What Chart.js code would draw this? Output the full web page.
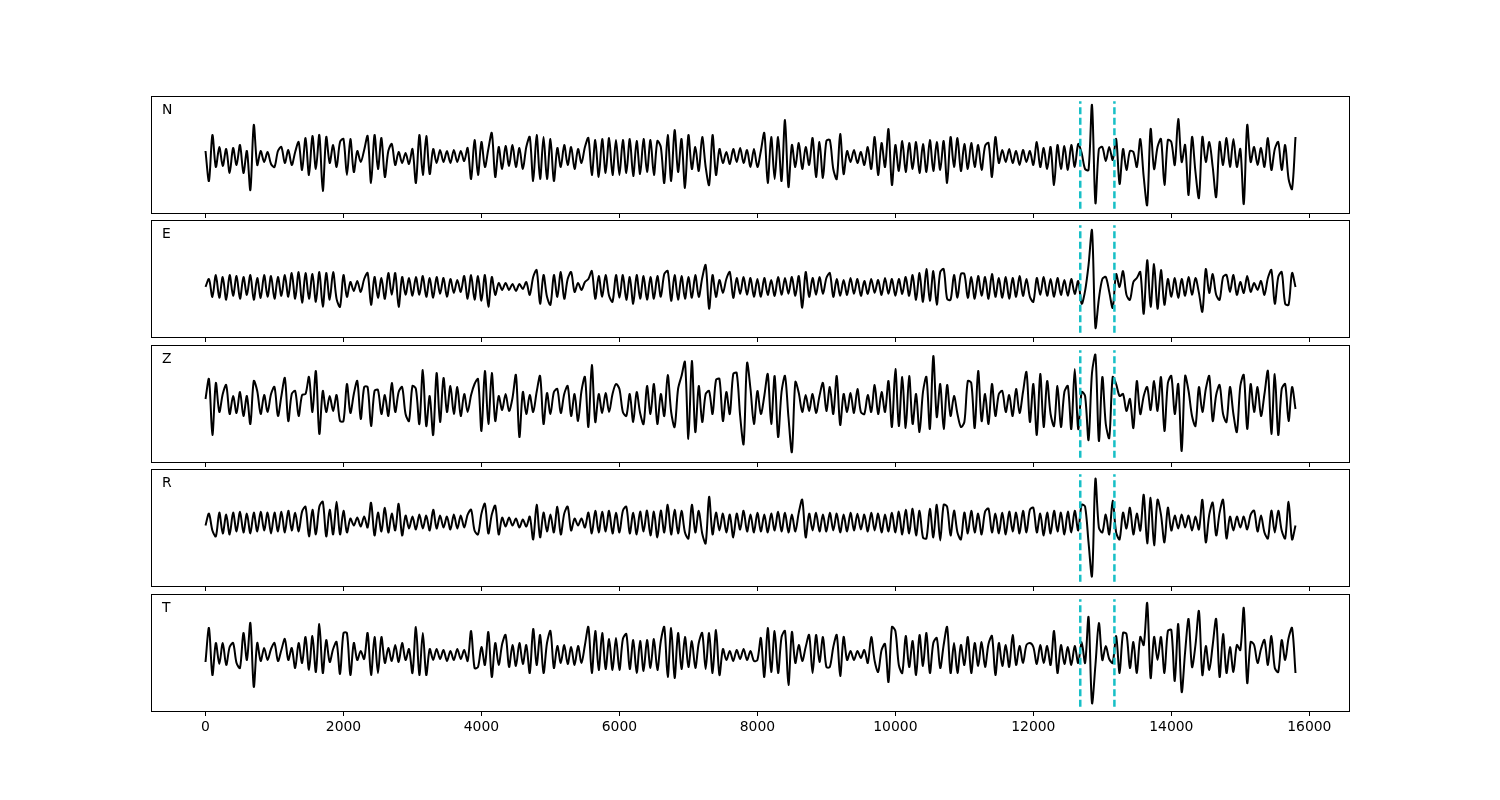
<!DOCTYPE html>
<html>
<head>
<meta charset="utf-8">
<title>Seismogram components</title>
<script src="https://cdn.jsdelivr.net/npm/chart.js@4.4.1/dist/chart.umd.min.js"></script>
<style>
  body { margin: 0; background: #fff; width: 1500px; height: 800px; position: relative; overflow: hidden; }
  canvas { position: absolute; left: 151px; }
</style>
</head>
<body>
<canvas id="c0"></canvas>
<canvas id="c1"></canvas>
<canvas id="c2"></canvas>
<canvas id="c3"></canvas>
<canvas id="c4"></canvas>
<script>
// Waveform amplitudes, one value every 50 samples (0 .. 15800)
const sampleStep = 50;

const traceN = [
  6, -24, 22, -10, 10, -9, 8, -16, 9, -8, 12, -16, 6, -33, 32, -8, 6, -5, 5, -7,
  -10, 6, 10, -6, 7, -8, 5, 15, -13, 19, -18, 21, -12, 22, -34, 20, -6, 12, -10, 15,
  18, -18, 18, -15, 6, -5, 7, 21, -26, 22, -12, 19, -20, 6, 13, -8, 5, -6, 4, -7,
  8, -26, 22, -18, 21, -17, 8, -6, 7, -5, 6, -6, 7, -5, 6, -4, 9, -22, 17, -18,
  15, -10, 8, 24, -20, 10, -12, 11, -9, 12, -10, 9, -12, 10, 20, -24, 22, -22, 20, -22,
  18, -24, 9, -10, 12, -8, 10, -12, 8, -6, 10, 19, -18, 17, -20, 18, -16, 19, -18, 17,
  -18, 17, -16, 18, -19, 16, -17, 18, -15, 17, -18, 16, 10, -26, 22, -24, 27, -15, 18, -31,
  22, -12, 10, -14, 20, -10, -28, 22, -18, 8, -6, 5, -7, 8, -5, 9, -6, 7, -10, 8,
  -10, 6, 24, -26, 20, -22, 20, -24, 37, -30, 12, -10, 14, -12, 10, -8, 19, -20, 15, -21,
  16, 17, -12, -22, 23, -17, 6, -5, 7, -6, 5, -8, 10, -12, 20, -18, 14, -10, 28, -28,
  12, -14, 16, -15, 14, -12, 15, -16, 13, -15, 17, -14, 15, -13, 16, -26, 20, -10, 19, -14,
  13, -12, 14, -10, 12, -13, 11, 14, -20, 20, -6, 7, -5, 8, -6, 6, -8, 7, -5, 6,
  -8, 15, -10, 9, -12, 10, -28, 12, -12, 11, -13, 12, -10, 13, 4, -12, -13, 52, -46, 8,
  10, -4, 10, -3, 18, -27, 8, -13, 6, 5, -10, 18, -20, -48, 28, -12, 10, 18, -28, 17,
  15, -8, 38, -5, 12, -38, 20, -15, -41, 20, -5, 15, -10, -40, 15, -8, 19, -10, 18, -10,
  8, -47, 32, -5, 10, -8, 9, -10, 19, -13, 8, 15, -13, 12, -22, -32, 20
];

const traceE = [
  0, 8, -10, 12, -11, 10, -13, 12, -9, 11, -12, 10, -8, 12, -13, 9, -11, 12, -10, 11,
  -12, 10, -9, 12, -10, 14, -12, 15, -16, 14, -12, 13, -15, 15, -20, 14, -13, 15, -12, -20,
  12, -10, 5, -4, 6, -5, 8, 14, -18, 10, -11, 9, -12, 14, -8, 14, -20, 10, -8, 9,
  -9, 10, -8, 11, -10, 9, -11, 10, -7, 9, -10, 8, -6, 7, -5, 11, -12, 12, -13, 11,
  -14, 12, -20, 10, -8, 4, -3, 4, -3, 3, -4, 3, -2, 5, -8, 10, 17, -17, 12, -10,
  -18, 12, -10, 15, -12, 8, 15, -5, 4, -3, 5, 8, 16, -12, 11, -10, 12, -9, -15, 12,
  -11, 12, -13, 10, -17, 12, -12, 11, -13, 10, -12, 11, -10, 13, 16, -14, 12, -13, 11, -12,
  10, -11, 12, -10, 9, 22, -22, 12, -10, 7, -6, 8, 15, -11, 9, -7, 10, -8, 9, -10,
  8, -10, 9, -8, 7, -9, 10, -8, 9, -7, 10, -9, 11, -21, 15, -10, 9, -8, 10, -7,
  9, 14, -10, 8, -9, 7, -8, 9, -7, 8, -9, 6, -7, 8, -6, 7, -8, 9, -7, 8,
  -9, 8, -7, 10, -9, 12, -13, 14, -15, 18, -14, 16, -18, 15, 18, -12, -13, 12, -11, 13,
  13, -11, 10, -12, 11, -9, 10, -12, 13, -10, 9, -11, 10, -12, 9, -10, 11, -9, 8, -10,
  -15, 9, -8, 10, -9, 8, -10, 9, -8, 7, -9, 8, -7, 6, -17, -4, 22, 57, -41, -12,
  8, 10, -5, -21, 13, 0, 16, -8, -13, 5, 9, 15, -27, 27, -20, 23, -22, 17, -18, 8,
  -10, 9, -11, 8, -9, 10, -8, 9, -6, -25, 18, -6, 13, -8, -13, 10, 12, -5, 12, -8,
  5, -6, 11, -5, 4, -3, 6, -8, 9, 17, -17, 10, 15, -17, -18, 14, 0
];

const traceZ = [
  5, 25, -31, 21, -8, 10, 19, -10, 8, -9, 12, -12, 8, -20, 23, 13, -10, 9, -8, 10,
  17, -12, 8, 26, -17, 10, 13, -12, 9, 10, 27, -8, 33, -30, 13, -8, 8, -7, 9, -17,
  -17, 20, -9, 10, 23, -15, 17, 17, -22, 13, 14, -10, 9, -12, 21, -8, 12, 17, -10, -17,
  18, 15, -20, 34, -22, 8, -31, 31, -18, 26, -8, 18, -10, 17, -12, 10, -8, 9, 20, 25,
  -27, 33, -20, 31, -17, 8, -6, 10, -7, 6, 29, -33, 12, -10, 9, -8, 12, 28, -20, 11,
  -10, 12, 15, -9, 10, 18, -12, 10, -17, 13, 27, -23, 39, -18, 10, -9, 11, -8, 10, 20,
  15, -8, -12, 10, -18, 12, -9, -20, 18, -10, 20, -20, 10, -12, 29, -8, -23, 15, 28, 42,
  -35, 43, -28, 18, -18, 10, 13, -10, 24, 25, -17, 12, -10, 30, 31, -12, -40, 41, 15, -20,
  13, -10, 8, 30, -20, 28, -33, 12, 28, -13, -48, 22, 11, -8, 9, -7, 10, -9, 8, 21,
  -7, 17, -10, 28, -21, 10, -8, 11, -9, 15, -8, -10, 9, -8, 19, -10, 12, -8, 23, -23,
  35, -22, 27, -24, 28, -20, 10, -28, 12, 27, -25, 48, -13, 20, -25, 19, -12, 8, -10, -23,
  -18, 23, 21, -24, 33, -17, 10, -20, 20, -12, 10, 13, -8, 9, -12, 15, -9, 12, 32, -18,
  20, -31, 30, -23, 23, -10, -22, 18, -23, 12, 18, -25, 35, -25, 12, 8, -36, 31, 49, -37,
  27, -20, -34, 27, 20, 8, 10, -7, 5, -24, 23, -10, 8, 17, -6, 23, -7, 27, -27, 21,
  28, -10, 20, -47, 28, 13, -12, -22, 17, -8, 15, 28, -17, 9, 19, -10, -18, 17, -10, -28,
  18, 29, -25, 20, -8, 17, -12, 10, 33, -30, 30, -31, 15, 20, -17, 17, -5
];

const traceR = [
  -3, 9, -8, -14, 10, -11, 8, -12, 10, -9, 11, -10, 9, -11, 10, -9, 11, -8, 10, -11,
  10, -9, 11, -10, 12, -8, 10, -9, 11, 16, -14, 13, -12, 16, 21, -14, 13, -12, 21, -12,
  12, -10, 4, -3, 5, -4, 6, -5, 20, -13, 10, -9, 15, -10, 9, -8, 19, -13, 7, -6,
  6, -7, 8, -6, 7, -8, 13, -6, 7, -5, 6, -7, 8, -6, 7, -5, 8, 13, -8, -12,
  9, 19, -11, 8, 17, -12, 5, -4, 5, -3, 4, -5, 3, -4, 6, -17, 18, -15, 10, -9,
  8, -10, 16, -12, 9, 16, -8, 4, -3, 4, -5, 10, -11, 12, -10, 11, -9, 12, -11, 10,
  -10, 12, 16, -11, 10, -12, 11, -9, 12, -13, 11, -15, 12, -10, 18, -12, 13, -11, 12, -10,
  -16, 18, -10, 12, -11, -21, 26, -12, 10, -8, 9, -10, 8, -15, 9, -7, 12, -9, 8, -10,
  10, -9, 8, -10, 9, -8, 11, -9, 10, -10, 8, -9, 10, 23, -15, 9, -8, 10, -9, 8,
  -9, 10, -8, 9, -10, 8, -9, 10, -8, 9, -7, 8, -9, 10, -8, 9, -10, 8, -9, 10,
  -10, 11, -12, 13, -11, 14, -13, 12, -15, -16, 14, -15, 18, -18, 18, 16, -13, 12, -10, -17,
  10, -11, 12, -10, 9, -12, 11, 14, -10, 9, -11, 10, -12, 11, -9, 10, -11, 12, -10, 13,
  15, -10, 9, -13, 10, -11, 12, -9, 10, -12, 11, -10, 12, -8, 18, 16, -20, -54, 44, -5,
  -10, 8, -12, 22, -10, -17, 10, -6, 15, -12, 9, -8, 28, -21, 25, -23, 23, 8, -20, 15,
  -8, 7, -6, 8, -5, 7, -8, 6, -7, 23, -20, 8, 20, -13, 10, 23, -16, 6, -8, 6,
  -5, 6, -7, 8, 12, -9, 7, -10, -16, 12, -10, 12, -8, -16, 21, -17, -3
];

const traceT = [
  -7, 27, -20, 12, -9, 12, -10, 8, 12, -8, -13, 22, -5, 32, -32, 12, -6, 7, -5, 6,
  12, -6, 5, 16, -5, 7, -13, 12, -8, 18, -15, 19, -17, 31, -18, 15, -7, 6, 13, -19,
  22, 22, -20, 12, -5, 4, -4, 22, -20, 18, -18, 18, -8, 7, -6, 10, -7, 12, -5, 6,
  -18, 28, -20, 22, -20, 6, -5, 6, -4, 5, -6, 4, -5, 6, -4, 5, -6, 24, -13, -12,
  8, -10, 23, -22, 12, -10, 11, 20, -12, 10, -11, 12, -9, 10, -18, 26, -10, 20, -18, 12,
  24, -13, 9, -8, 10, -9, 8, -10, 9, -8, 10, 28, -18, 24, -15, 22, -14, 16, -15, 17,
  -15, 16, 21, -14, 15, -18, 14, -16, 15, -13, 16, -15, 14, 28, -22, 27, -23, 22, -14, 18,
  -12, 14, -13, 12, 22, -14, 22, -18, 25, -20, 6, -5, 4, -6, 5, -4, 6, -5, 4, -6,
  -5, 17, -22, 27, -17, 24, -18, 18, 24, -30, 23, -8, 10, -6, 8, 20, -18, 20, -7, 18,
  -12, -12, 8, 20, -21, 18, -5, 4, -5, 4, -3, 5, -8, 18, -6, -17, 5, 11, -27, 28,
  24, -10, -18, 19, -12, 14, -20, 20, -11, 22, -18, 12, 17, -13, 10, 28, -18, 12, -18, 10,
  -10, 18, -18, 12, -11, 13, -12, 11, 19, -20, 12, -11, 10, -12, 20, -10, 9, -8, 10, 12,
  8, -9, 10, -8, 9, -10, 24, -18, 10, -9, 8, -10, 9, -8, 13, -8, 38, -48, -10, 32,
  -5, 9, -4, -8, 19, -18, 22, 21, -13, 13, -18, 18, 10, 52, -23, 18, -5, 18, -18, 24,
  25, -26, 31, -37, 3, 36, -12, 10, 44, -20, 9, -15, 10, 36, -22, 21, -18, 8, -17, 10,
  5, 47, -28, 13, 10, -8, 6, 15, -10, 19, -13, -17, 15, -5, 17, 27, -18
];

const channels = ['N', 'E', 'Z', 'R', 'T'];
const traces = [traceN, traceE, traceZ, traceR, traceT];
const pickTimes = [12680, 13175];   // the two dashed markers
const xTickValues = [0, 2000, 4000, 6000, 8000, 10000, 12000, 14000, 16000];

// axis limits (5% margin around 0..15800) and per-panel amplitude window
const xMin = -790, xMax = 16590;
const yLimits = [[-57, 61], [-51.5, 67.5], [-59, 59], [-65, 54], [-57, 61]];

// layout
const panelTops = [96, 220, 345, 469, 594];
const plotWidth = 1199, plotHeight = 118;

const framePlugin = {
  id: 'frame',
  afterDraw(chart) {
    const { ctx, chartArea: a } = chart;
    ctx.save();
    ctx.strokeStyle = '#000';
    ctx.lineWidth = 1;
    ctx.strokeRect(a.left + 0.5, a.top + 0.5, a.right - a.left - 1, a.bottom - a.top - 1);
    ctx.fillStyle = '#000';
    ctx.font = '13.9px "DejaVu Sans"';
    ctx.textBaseline = 'alphabetic';
    ctx.fillText(chart.options.plugins.frame.label, a.left + 11, a.top + 17.5);
    ctx.restore();
  }
};

function drawPanel(i) {
  const isLast = i === channels.length - 1;
  const axisH = isLast ? 40 : 6;
  const canvas = document.getElementById('c' + i);
  canvas.width = plotWidth;
  canvas.height = plotHeight + axisH;
  canvas.style.top = panelTops[i] + 'px';

  const [yMin, yMax] = yLimits[i];
  const inset = (yMax - yMin) * 0.05 / 1.1;
  const pickLo = yMin + inset, pickHi = yMax - inset;

  const datasets = [{
    data: traces[i].map((v, k) => ({ x: k * sampleStep, y: v })),
    borderColor: '#000',
    borderWidth: 2,
    pointRadius: 0,
    tension: 0.3,
    order: 1
  }];
  pickTimes.forEach(t => {
    datasets.push({
      data: [{ x: t, y: pickLo }, { x: t, y: pickHi }],
      borderColor: '#17bfc6',
      borderWidth: 2.5,
      borderDash: [7, 3.5],
      pointRadius: 0,
      order: 0
    });
  });

  new Chart(canvas, {
    type: 'line',
    data: { datasets },
    plugins: [framePlugin],
    options: {
      responsive: false,
      animation: false,
      layout: { padding: 0 },
      plugins: {
        legend: { display: false },
        tooltip: { enabled: false },
        frame: { label: channels[i] }
      },
      scales: {
        x: {
          type: 'linear',
          min: xMin,
          max: xMax,
          afterBuildTicks: s => { s.ticks = xTickValues.map(v => ({ value: v })); },
          afterFit: s => { s.height = axisH; },
          ticks: {
            display: isLast,
            color: '#000',
            padding: 3,
            maxRotation: 0,
            autoSkip: false,
            font: { family: 'DejaVu Sans', size: 13.9 },
            callback: v => String(v)
          },
          grid: {
            display: true,
            drawOnChartArea: false,
            drawTicks: true,
            tickLength: 4,
            color: '#000',
            lineWidth: 1
          },
          border: { display: false }
        },
        y: { display: false, min: yMin, max: yMax }
      }
    }
  });
}

channels.forEach((c, i) => drawPanel(i));
</script>
</body>
</html>
